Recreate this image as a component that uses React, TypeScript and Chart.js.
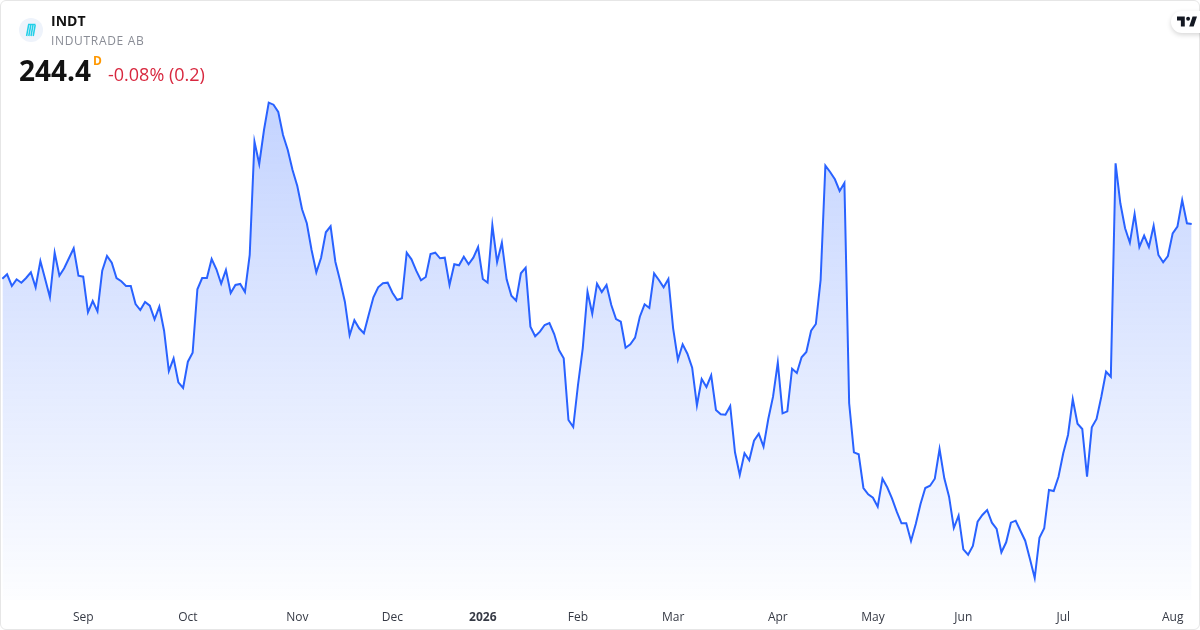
import React, { useEffect, useRef } from "react";
import { Chart, registerables } from "chart.js";

Chart.register(...registerables);

const closeValues = [
  233.46, 234.34, 232.0, 233.34, 232.66, 233.6, 234.74, 231.74, 237.0, 233.4,
  229.74, 238.66, 234.06, 235.54, 237.54, 239.54, 234.06, 233.86, 226.74, 229.0,
  226.94, 235.06, 238.0, 236.66, 233.6, 232.94, 232.0, 232.0, 228.4, 227.2,
  228.8, 228.06, 225.34, 227.86, 223.06, 215.0, 217.54, 212.74, 211.6, 216.86,
  218.66, 231.34, 233.6, 233.6, 237.4, 235.34, 232.46, 235.2, 230.6, 232.2,
  232.4, 230.8, 238.2, 260.86, 256.4, 263.2, 268.66, 268.26, 266.8, 262.2,
  259.2, 255.2, 252.0, 247.34, 244.54, 239.2, 234.74, 237.66, 242.74, 243.94,
  236.86, 233.06, 228.86, 222.14, 225.14, 223.54, 222.54, 226.2, 229.74, 231.74,
  232.54, 232.66, 230.66, 229.2, 229.54, 238.66, 237.34, 235.06, 233.14, 233.8,
  238.4, 238.66, 237.54, 237.66, 232.2, 236.34, 236.14, 237.86, 236.34, 237.66,
  239.8, 233.4, 232.66, 244.14, 236.8, 240.66, 233.34, 230.06, 229.06, 234.54,
  235.66, 223.86, 221.94, 222.86, 224.2, 224.6, 222.4, 219.2, 217.54, 205.2,
  203.8, 212.2, 219.54, 230.86, 226.46, 232.46, 230.8, 232.2, 228.2, 225.4,
  224.86, 219.66, 220.34, 221.66, 225.86, 228.34, 227.6, 234.54, 233.2, 231.74,
  233.4, 223.54, 217.26, 220.34, 218.46, 215.66, 208.14, 213.4, 211.8, 214.14,
  207.2, 206.34, 206.26, 208.0, 198.74, 194.2, 198.54, 197.14, 201.06, 202.46,
  199.86, 205.4, 209.86, 216.66, 206.54, 206.94, 215.46, 214.6, 217.74, 218.8,
  223.06, 224.4, 233.2, 256.06, 254.8, 253.34, 251.0, 252.6, 208.54, 198.74,
  198.34, 191.6, 190.34, 189.66, 187.86, 193.46, 191.74, 189.54, 186.86, 184.54,
  184.54, 181.0, 184.4, 188.4, 191.6, 192.06, 193.46, 199.4, 193.54, 189.86,
  183.6, 186.06, 179.34, 178.26, 180.0, 184.86, 186.2, 187.2, 184.66, 183.4,
  178.74, 180.74, 184.66, 185.06, 183.06, 181.06, 177.4, 173.6, 181.66, 183.54,
  191.2, 191.0, 193.86, 198.54, 202.2, 209.34, 204.46, 203.4, 193.86, 203.74,
  205.4, 209.86, 214.86, 213.86, 256.54, 248.54, 243.54, 240.66, 246.4, 239.8,
  242.06, 239.8, 244.06, 238.2, 236.74, 238.0, 242.54, 243.86, 249.2, 244.54,
  244.4,
];

const tickLabels = ["Sep", "Oct", "Nov", "Dec", "2026", "Feb", "Mar", "Apr", "May", "Jun", "Jul", "Aug"];
const tickIndexes = [17, 39, 62, 82, 101, 121, 141, 163, 183, 202, 223, 246];

const symbol = "INDT";
const company = "INDUTRADE AB";
const lastPrice = "244.4";
const interval = "D";
const change = "-0.08% (0.2)";

const categories = closeValues.map((_, i) => {
  const at = tickIndexes.indexOf(i);
  return at >= 0 ? tickLabels[at] : "";
});

const FONT = '"Open Sans", "Noto Sans", sans-serif';

export default function App() {
  const ref = useRef<HTMLCanvasElement>(null);

  useEffect(() => {
    if (!ref.current) return;
    const chart = new Chart(ref.current, {
      type: "line",
      data: {
        labels: categories,
        datasets: [
          {
            data: closeValues,
            borderColor: "#2962FF",
            borderWidth: 2,
            pointRadius: 0,
            tension: 0,
            fill: "start",
            backgroundColor: (ctx: any) => {
              const c = ctx.chart;
              const g = c.ctx.createLinearGradient(0, 102, 0, c.chartArea ? c.chartArea.bottom : 600);
              g.addColorStop(0, "rgba(41,98,255,0.28)");
              g.addColorStop(1, "rgba(41,98,255,0.01)");
              return g;
            },
          },
        ],
      },
      options: {
        responsive: false,
        animation: false,
        layout: { padding: { left: 2.33, right: 8.3, top: 0, bottom: 0 } },
        plugins: { legend: { display: false }, tooltip: { enabled: false } },
        scales: {
          y: { display: false, min: 169.2, max: 289.2 },
          x: {
            afterFit: (s: any) => {
              s.height = 30;
            },
            border: { display: false },
            grid: { display: false },
            ticks: {
              autoSkip: false,
              maxRotation: 0,
              padding: 2,
              color: "#363a45",
              font: (ctx: any) => ({
                family: FONT,
                size: 12,
                weight: ctx.tick && ctx.tick.label === "2026" ? "bold" : "normal",
              }),
            },
          },
        },
      },
    } as any);
    return () => chart.destroy();
  }, []);

  return (
    <div style={{ position: "fixed", left: 0, top: 0, width: 1200, height: 630, background: "#fff", overflow: "hidden", fontFamily: FONT }}>
      <canvas ref={ref} width={1200} height={630} style={{ position: "absolute", left: 0, top: 0, width: 1200, height: 630, display: "block" }} />
      <div style={{ position: "absolute", inset: 0, boxSizing: "border-box", border: "1px solid #e6e6e6", borderRadius: 6, pointerEvents: "none" }} />
      <svg width="24" height="24" viewBox="0 0 24 24" style={{ position: "absolute", left: 19, top: 18 }}>
        <circle cx="12" cy="12" r="12" fill="#eef3fb" />
        <g stroke="#22cfe8" strokeWidth="1.5" fill="none">
          <path d="M9 6.5h7.5" />
          <path d="M9.6 7 7.6 18M11.8 7l-2 11M14 7l-2 11M16.2 7l-2 11" />
        </g>
      </svg>
      <div style={{ position: "absolute", left: 51, top: 12, fontSize: 14, fontWeight: 700, color: "#131313", lineHeight: "18px" }}>{symbol}</div>
      <div style={{ position: "absolute", left: 51, top: 33, fontSize: 12, letterSpacing: 0.67, color: "#8a8d96", lineHeight: "16px" }}>{company}</div>
      <div style={{ position: "absolute", left: 19, top: 51, fontSize: 28, fontWeight: 700, color: "#131313", lineHeight: "38px" }}>{lastPrice}</div>
      <div style={{ position: "absolute", left: 93, top: 54, fontSize: 12, fontWeight: 700, color: "#ff9800", lineHeight: "14px" }}>{interval}</div>
      <div style={{ position: "absolute", left: 108, top: 62, fontSize: 18, color: "#d8283f", lineHeight: "24px" }}>{change}</div>
      <div style={{ position: "absolute", left: 1171, top: 11, width: 40, height: 22, borderRadius: 11, background: "#fff", boxShadow: "0 2px 5px rgba(0,0,0,0.16)" }} />
      <svg width="20" height="11" viewBox="0 0 36 18" style={{ position: "absolute", left: 1177, top: 16 }}>
        <path fill="#131722" d="M14 0H0v7h7v11h7V0zM22 18h8L36 0h-8l-6 18z" />
        <circle cx="20" cy="4" r="3.5" fill="#131722" />
      </svg>
    </div>
  );
}
